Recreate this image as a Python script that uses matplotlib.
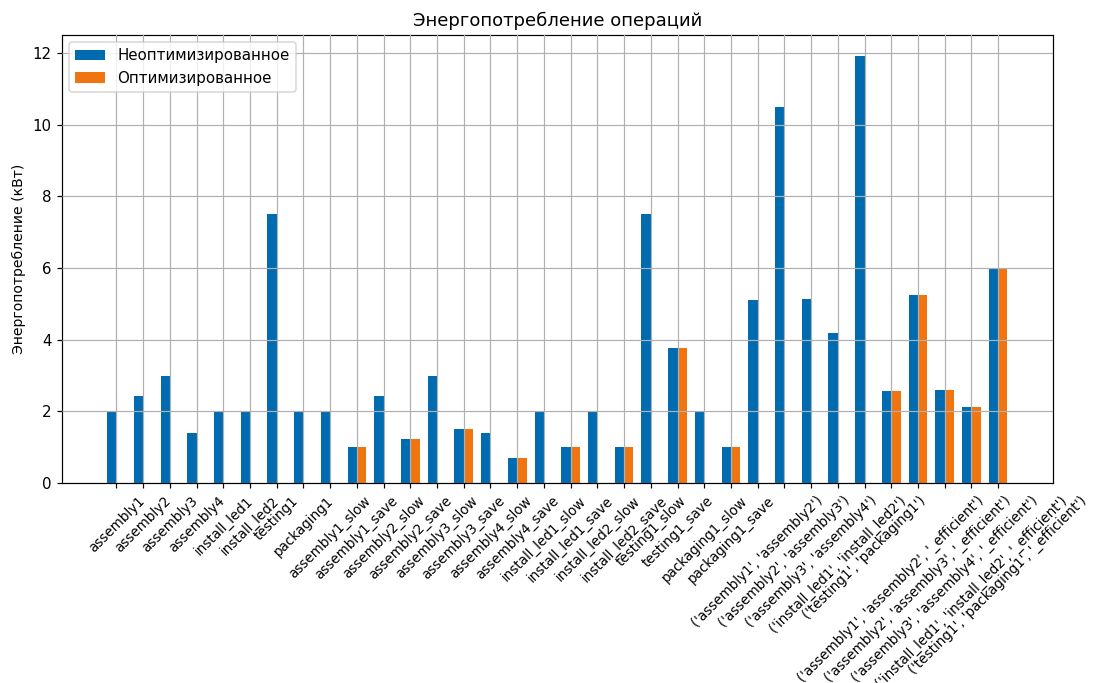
import matplotlib
matplotlib.use("Agg")
import matplotlib.pyplot as plt
import numpy as np

categories = [
    "assembly1", "assembly2", "assembly3", "assembly4",
    "install_led1", "install_led2", "testing1", "packaging1",
    "assembly1_slow", "assembly1_save", "assembly2_slow", "assembly2_save",
    "assembly3_slow", "assembly3_save", "assembly4_slow", "assembly4_save",
    "install_led1_slow", "install_led1_save", "install_led2_slow", "install_led2_save",
    "testing1_slow", "testing1_save", "packaging1_slow", "packaging1_save",
    "('assembly1', 'assembly2')", "('assembly2', 'assembly3')",
    "('assembly3', 'assembly4')", "('install_led1', 'install_led2')",
    "('testing1', 'packaging1')",
    "('assembly1', 'assembly2', '_efficient')", "('assembly2', 'assembly3', '_efficient')",
    "('assembly3', 'assembly4', '_efficient')", "('install_led1', 'install_led2', '_efficient')",
    "('testing1', 'packaging1', '_efficient')",
]

unoptimized = [
    2.0, 2.42, 3.0, 1.41, 2.0, 2.0, 7.5, 2.0,
    2.0, 1.0, 2.42, 1.22, 3.0, 1.52, 1.41, 0.7,
    2.0, 1.0, 2.0, 1.0, 7.5, 3.77, 2.0, 1.0,
    5.12, 10.49, 5.13, 4.2, 11.91,
    2.56, 5.26, 2.59, 2.11, 5.97,
]

optimized = [
    0, 0, 0, 0, 0, 0, 0, 0,
    0, 1.0, 0, 1.22, 0, 1.52, 0, 0.7,
    0, 1.0, 0, 1.0, 0, 3.77, 0, 1.0,
    0, 0, 0, 0, 0,
    2.56, 5.26, 2.59, 2.11, 5.97,
]

plt.rcParams['font.family'] = ['DejaVu Sans']
plt.rcParams['font.size'] = 10

dpi = 108
fig = plt.figure(figsize=(1097 / dpi, 683 / dpi), dpi=dpi)
ax = fig.add_axes([0.0565, 0.2928, 0.9035, 0.656])

x = np.arange(len(categories))
w = 0.35
ax.bar(x - w / 2, unoptimized, w, color='#006bb0', label='Неоптимизированное')
ax.bar(x + w / 2, optimized, w, color='#f07410', label='Оптимизированное')

ax.set_xticks(x)
ax.set_xticklabels(categories, rotation=45, fontsize=9)
ax.set_xlim(-2.04, 35.06)
ax.set_ylabel('Энергопотребление (кВт)', fontsize=9.3)
ax.set_title('Энергопотребление операций')
ax.grid(True)
ax.set_axisbelow(False)
ax.legend(loc='upper left')

fig.savefig('out.png', dpi=dpi)
